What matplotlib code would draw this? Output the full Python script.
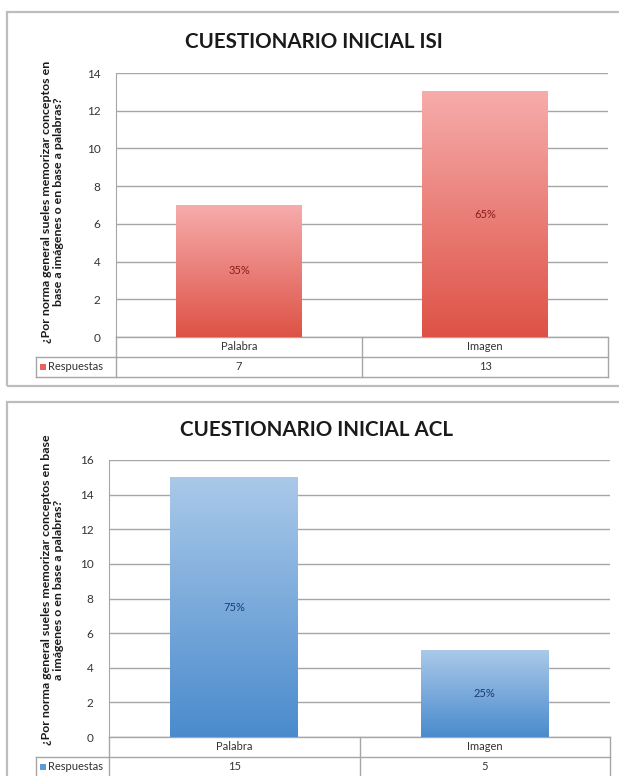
import numpy as np
import matplotlib.pyplot as plt
from matplotlib.colors import LinearSegmentedColormap
from matplotlib.patches import Rectangle

plt.rcParams['font.family'] = ['Lato', 'DejaVu Sans']

# data
categorias = ['Palabra', 'Imagen']
isi_valores = [7, 13]
isi_pct = ['35%', '65%']
acl_valores = [15, 5]
acl_pct = ['75%', '25%']

W, H = 619, 776
fig = plt.figure(figsize=(W / 100, H / 100), dpi=100)
fig.patch.set_facecolor('white')

GRID = '#a6a6a6'


def px_box(x0, y0, x1, y1):
    # pixel box (top-left origin) -> figure fraction rect
    return [x0 / W, 1 - y1 / H, (x1 - x0) / W, (y1 - y0) / H]


def chart(plot_px, frame_px, title, title_xy, valores, pct, ylabel, label_xy,
          ymax, c_top, c_bot, c_txt, swatch, row_left):
    # outer frame
    fx0, fy0, fx1, fy1 = frame_px
    fig.patches.append(Rectangle((fx0 / W, 1 - fy1 / H), (fx1 - fx0) / W,
                                 (fy1 - fy0) / H, transform=fig.transFigure,
                                 fill=False, ec='#bdbdbd', lw=1.6))
    fig.text(title_xy[0] / W, 1 - title_xy[1] / H, title, ha='center',
             va='center', fontsize=14.8, fontweight='bold', color='#1a1a1a')

    ax = fig.add_axes(px_box(*plot_px))
    x = np.arange(len(categorias))
    bars = ax.bar(x, valores, width=0.51, color='none', zorder=3)
    cmap = LinearSegmentedColormap.from_list('g', [c_bot, c_top])
    grad = np.linspace(0, 1, 256).reshape(-1, 1)
    for b in bars:
        ax.imshow(grad, cmap=cmap, origin='lower', aspect='auto', zorder=3,
                  extent=(b.get_x(), b.get_x() + b.get_width(), 0, b.get_height()))
    for xi, v, p in zip(x, valores, pct):
        ax.text(xi, v / 2, p, ha='center', va='center', fontsize=8,
                color=c_txt, zorder=4)

    ax.set_xlim(-0.5, len(categorias) - 0.5)
    ax.set_ylim(0, ymax)
    ax.set_yticks(np.arange(0, ymax + 1, 2))
    ax.set_xticks([])
    ax.yaxis.grid(True, color=GRID, lw=1)
    ax.set_axisbelow(True)
    for s in ['top', 'right', 'bottom']:
        ax.spines[s].set_visible(False)
    ax.spines['left'].set_color(GRID)
    ax.tick_params(axis='y', length=0, pad=11, labelsize=8.5, labelcolor='#333333')
    ax.set_ylabel(ylabel, fontsize=8.9, fontweight='bold', color='#1a1a1a',
                  linespacing=1.1)

    # data table under the axis
    hpx = plot_px[3] - plot_px[1]
    wpx = plot_px[2] - plot_px[0]
    # label block: right edge x px, centre y px
    ax.yaxis.set_label_coords((label_xy[0] - plot_px[0]) / wpx,
                              (plot_px[3] - label_xy[1]) / hpx)
    rh = 20 / hpx
    lx = (row_left - plot_px[0]) / wpx
    tr = ax.transAxes
    kw = dict(transform=tr, clip_on=False, color=GRID, lw=1)
    ax.plot([0, 1], [0, 0], **kw)
    ax.plot([lx, 1], [-rh, -rh], **kw)
    ax.plot([lx, 1], [-2 * rh, -2 * rh], **kw)
    ax.plot([lx, lx], [-rh, -2 * rh], **kw)
    for k in range(len(categorias) + 1):
        xf = k / len(categorias)
        ax.plot([xf, xf], [0, -2 * rh], **kw)
    for xi, c, v in zip(x, categorias, valores):
        xf = (xi + 0.5) / len(categorias)
        ax.text(xf, -rh / 2, c, transform=tr, ha='center', va='center',
                fontsize=8, color='#333333')
        ax.text(xf, -1.5 * rh, str(v), transform=tr, ha='center', va='center',
                fontsize=8, color='#333333')
    ax.add_patch(Rectangle((lx + 4 / wpx, -1.5 * rh - 3 / hpx), 6 / wpx, 6 / hpx,
                           transform=tr, clip_on=False, color=swatch, lw=0))
    ax.text(lx + 12 / wpx, -1.5 * rh, 'Respuestas', transform=tr, ha='left',
            va='center', fontsize=8, color='#333333')
    return ax


chart((116, 73, 608, 337), (7, 12, 640, 386), 'CUESTIONARIO INICIAL ISI',
      (314, 42), isi_valores, isi_pct,
      '¿Por norma general sueles memorizar conceptos en\nbase a imágenes o en base a palabras?',
      (64, 202), 14, '#f6acab', '#de5246', '#8a1c1c', '#e8625a', 36)

chart((109, 460, 610, 737), (7, 402, 640, 800), 'CUESTIONARIO INICIAL ACL',
      (316, 430), acl_valores, acl_pct,
      '¿Por norma general sueles memorizar conceptos en base\na imágenes o en base a palabras?',
      (64, 590), 16, '#aac9e9', '#4a8bcd', '#1c3a78', '#5b9bd5', 36)

fig.savefig('out.png', dpi=100)
